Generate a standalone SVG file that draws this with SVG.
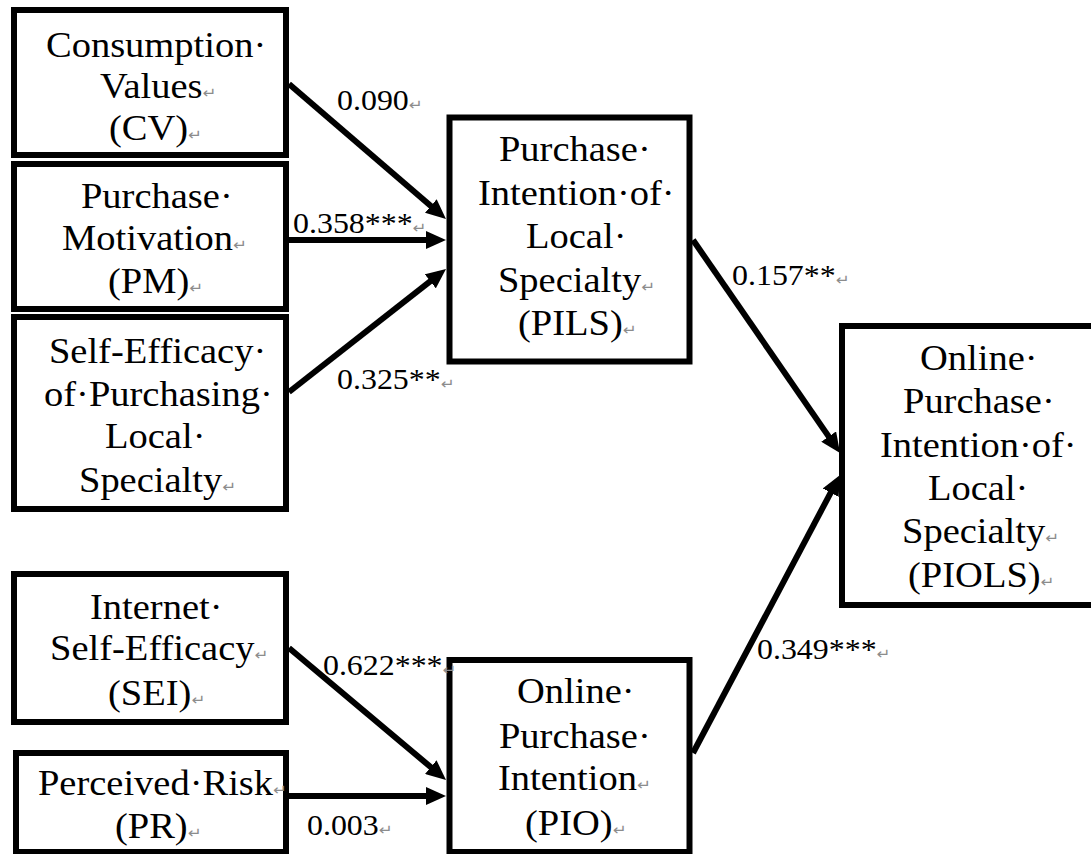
<svg xmlns="http://www.w3.org/2000/svg" width="1091" height="854" viewBox="0 0 1091 854">
<style>
.box{fill:#fff;stroke:#000;stroke-width:6}
.t{font-family:"Liberation Serif","Times New Roman",serif;font-size:35px;fill:#000}
.lb{font-family:"Liberation Serif","Times New Roman",serif;font-size:29px;fill:#000}
.rm{font-family:"DejaVu Sans",sans-serif;font-size:15px;fill:#8c8c8c}
.cn{stroke:#000;stroke-width:6;fill:none;marker-end:url(#ah)}
</style>
<defs>
<marker id="ah" markerUnits="userSpaceOnUse" viewBox="0 0 20 18" markerWidth="20" markerHeight="18" refX="12" refY="9" orient="auto">
<path d="M0,0 L20,9 L0,18 z" fill="#000"/>
</marker>
</defs>
<rect width="1091" height="854" fill="#fff"/>
<g id="connectors">
<line class="cn" x1="289" y1="84" x2="439.9" y2="213.8"/>
<line class="cn" x1="289" y1="240" x2="438" y2="240"/>
<line class="cn" x1="289" y1="392" x2="439.7" y2="273.9"/>
<line class="cn" x1="693" y1="240" x2="835.5" y2="446.4"/>
<line class="cn" x1="693" y1="753" x2="836.3" y2="482.1"/>
<line class="cn" x1="289" y1="648" x2="439.9" y2="774.8"/>
<line class="cn" x1="289" y1="796" x2="438" y2="796"/>
</g>
<g id="CV">
<rect class="box" x="14" y="10" width="272" height="145"/>
<g transform="scale(1.1,1)">
<text class="t" x="41.8" y="57">Consumption·</text>
<text class="t" x="90.9" y="98">Values<tspan class="rm">↵</tspan></text>
<text class="t" x="99.1" y="140">(CV)<tspan class="rm">↵</tspan></text>
</g>
</g>
<g id="PM">
<rect class="box" x="14" y="164" width="272" height="145"/>
<g transform="scale(1.1,1)">
<text class="t" x="73.6" y="208">Purchase·</text>
<text class="t" x="56.4" y="250">Motivation<tspan class="rm">↵</tspan></text>
<text class="t" x="98.2" y="293">(PM)<tspan class="rm">↵</tspan></text>
</g>
</g>
<g id="SE">
<rect class="box" x="14" y="317" width="272" height="192"/>
<g transform="scale(1.1,1)">
<text class="t" x="44.5" y="363">Self-Efficacy·</text>
<text class="t" x="40" y="406">of·Purchasing·</text>
<text class="t" x="95.5" y="448">Local·</text>
<text class="t" x="71.8" y="492">Specialty<tspan class="rm">↵</tspan></text>
</g>
</g>
<g id="SEI">
<rect class="box" x="14" y="574" width="272" height="148"/>
<g transform="scale(1.1,1)">
<text class="t" x="81.8" y="619">Internet·</text>
<text class="t" x="45.5" y="660">Self-Efficacy<tspan class="rm">↵</tspan></text>
<text class="t" x="98.2" y="705">(SEI)<tspan class="rm">↵</tspan></text>
</g>
</g>
<g id="PR">
<rect class="box" x="16" y="753" width="270" height="99"/>
<g transform="scale(1.1,1)">
<text class="t" x="34.5" y="795">Perceived·Risk<tspan class="rm">↵</tspan></text>
<text class="t" x="104.5" y="838">(PR)<tspan class="rm">↵</tspan></text>
</g>
</g>
<g id="PILS">
<rect class="box" x="449.5" y="117.5" width="240" height="244"/>
<g transform="scale(1.1,1)">
<text class="t" x="453.6" y="161">Purchase·</text>
<text class="t" x="434.5" y="205">Intention·of·</text>
<text class="t" x="478.2" y="248">Local·</text>
<text class="t" x="452.7" y="292">Specialty<tspan class="rm">↵</tspan></text>
<text class="t" x="470.9" y="335">(PILS)<tspan class="rm">↵</tspan></text>
</g>
</g>
<g id="PIO">
<rect class="box" x="449.5" y="660" width="240" height="192"/>
<g transform="scale(1.1,1)">
<text class="t" x="470" y="703">Online·</text>
<text class="t" x="453.6" y="748">Purchase·</text>
<text class="t" x="452.7" y="790">Intention<tspan class="rm">↵</tspan></text>
<text class="t" x="477.3" y="835">(PIO)<tspan class="rm">↵</tspan></text>
</g>
</g>
<g id="PIOLS">
<rect class="box" x="842" y="326" width="260" height="279"/>
<g transform="scale(1.1,1)">
<text class="t" x="836.4" y="370">Online·</text>
<text class="t" x="820.9" y="413">Purchase·</text>
<text class="t" x="800" y="457">Intention·of·</text>
<text class="t" x="843.6" y="500">Local·</text>
<text class="t" x="820" y="543">Specialty<tspan class="rm">↵</tspan></text>
<text class="t" x="825.5" y="587">(PIOLS)<tspan class="rm">↵</tspan></text>
</g>
</g>
<g id="labels" transform="scale(1.1,1)">
<text class="lb" x="306.4" y="110">0.090<tspan class="rm">↵</tspan></text>
<text class="lb" x="266.4" y="233">0.358***<tspan class="rm">↵</tspan></text>
<text class="lb" x="306.4" y="389">0.325**<tspan class="rm">↵</tspan></text>
<text class="lb" x="665.5" y="285">0.157**<tspan class="rm">↵</tspan></text>
<text class="lb" x="688.2" y="659">0.349***<tspan class="rm">↵</tspan></text>
<text class="lb" x="293.6" y="675">0.622***<tspan class="rm">↵</tspan></text>
<text class="lb" x="279.1" y="835">0.003<tspan class="rm">↵</tspan></text>
</g>
</svg>
